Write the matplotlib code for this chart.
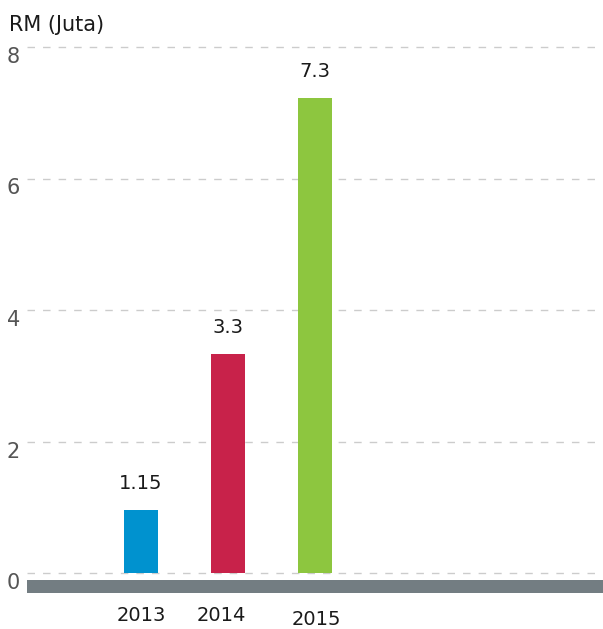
import matplotlib
matplotlib.use("Agg")
import matplotlib.pyplot as plt

# Data
years = ["2013", "2014", "2015"]
bar_values = [0.96, 3.33, 7.22]
value_labels = ["1.15", "3.3", "7.3"]
colors = ["#0092CF", "#C8224A", "#8DC63F"]
yticks = [0, 2, 4, 6, 8]
unit_label = "RM (Juta)"

W, H = 603, 629
fig = plt.figure(figsize=(W / 100, H / 100), dpi=100)
plt.rcParams['font.family'] = ['DejaVu Sans']

# axes occupying pixel box x 27..603, y 40..600 (from top)
left_px, right_px, top_px, bot_px = 27, 603, 40, 600
ax = fig.add_axes([left_px / W, (H - bot_px) / H, (right_px - left_px) / W, (bot_px - top_px) / H])

px_per_unit = 65.8
zero_px = 573.3
ax.set_ylim(-(bot_px - zero_px) / px_per_unit, (zero_px - top_px) / px_per_unit)
spacing = 87.0
first_center = 141
ax.set_xlim(-(first_center - left_px) / spacing, (right_px - first_center) / spacing)

for s in ax.spines.values():
    s.set_visible(False)
ax.set_xticks([])
ax.set_yticks([])

# gridlines
for t in yticks:
    ax.axhline(t, color="#cccccc", lw=1.0, linestyle=(0, (5.4, 5.8)), zorder=1)

# baseline band
ax.axhspan(-0.304, -0.106, color="#737D82", lw=0, zorder=2)

xs = list(range(len(years)))
ax.bar(xs, bar_values, width=0.39, color=colors, zorder=3)

# value labels
for x, v, lab in zip(xs, bar_values, value_labels):
    ax.text(x, v + 0.40, lab, ha="center", va="center", fontsize=14, color="#1a1a1a")

# year labels
year_dx = [0, -0.08, 0.02]
year_dy = [-0.634, -0.634, -0.695]
for x, y, dx, dy in zip(xs, years, year_dx, year_dy):
    ax.text(x + dx, dy, y, ha="center", va="center", fontsize=14, color="#1a1a1a", clip_on=False)

# y tick labels
tr = ax.get_yaxis_transform()
for t in yticks:
    ax.text(-0.024, t - 0.15, str(t), transform=tr, ha="center", va="center",
            fontsize=15, color="#555555", clip_on=False)

fig.text(9 / W, 1 - 25 / H, unit_label, ha="left", va="center", fontsize=15, color="#1a1a1a")

fig.savefig("out.png", dpi=100, facecolor="white")
